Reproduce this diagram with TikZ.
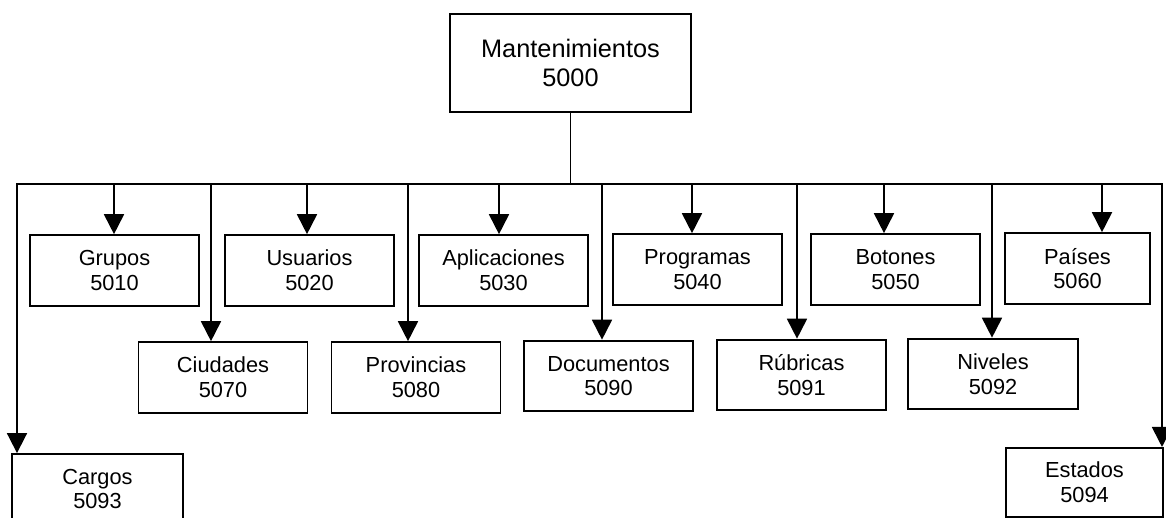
\documentclass[tikz,border=0pt]{standalone}
\usepackage{fontspec}
\setmainfont{Liberation Sans}
\usetikzlibrary{arrows.meta}

\begin{document}
\begin{tikzpicture}[x=0.025cm, y=-0.025cm, line width=1.3pt,
  caja/.style={draw, align=center, minimum width=4.22cm, minimum height=1.77cm,
    font=\fontsize{15.5}{17.5}\selectfont},
  flecha/.style={-{Triangle[width=0.5cm, length=0.5cm]}},
  doble/.style={{Triangle[width=0.5cm, length=0.5cm]}-{Triangle[width=0.5cm, length=0.5cm]}}]
\useasboundingbox (0,0) rectangle (1166,518);
\node[caja, minimum width=6.02cm, minimum height=2.45cm,
  font=\fontsize{18}{21}\selectfont] (mant) at (570.5,63) {Mantenimientos\\5000};
% first row
\node[caja] (grupos) at (114.5,270.5) {Grupos\\5010};
\node[caja] (usuarios) at (309.5,270.5) {Usuarios\\5020};
\node[caja] (aplicaciones) at (503.5,270.5) {Aplicaciones\\5030};
\node[caja] (programas) at (697.5,269.5) {Programas\\5040};
\node[caja] (botones) at (895.5,269.5) {Botones\\5050};
\node[caja, minimum width=3.62cm] (paises) at (1077.5,268.5) {Países\\5060};
% second row
\node[caja] (ciudades) at (223,377.5) {Ciudades\\5070};
\node[caja] (provincias) at (416,377.5) {Provincias\\5080};
\node[caja] (documentos) at (608.5,376) {Documentos\\5090};
\node[caja] (rubricas) at (801.5,375) {Rúbricas\\5091};
\node[caja, minimum width=4.25cm] (niveles) at (993,374) {Niveles\\5092};
% third row
\node[caja, minimum width=4.27cm, minimum height=1.75cm] (cargos) at (97.5,489) {Cargos\\5093};
\node[caja, minimum width=3.92cm, minimum height=1.73cm] (estados) at (1084.5,482.5) {Estados\\5094};
% bus
\coordinate (izq) at (17,184);
\coordinate (der) at (1162,184);
\draw (mant.south) -- (mant.south |- izq);
\draw[doble] (izq |- cargos.north) -- (izq) -- (der) -- (der |- estados.north);
\foreach \x/\dest in {114/grupos, 307/usuarios, 499/aplicaciones, 692/programas,
    884/botones, 1102/paises, 211/ciudades, 408/provincias, 602/documentos,
    797/rubricas, 992/niveles}{
  \coordinate (top) at (\x,184);
  \draw[flecha] (top) -- (top |- \dest.north);
}
\end{tikzpicture}
\end{document}
